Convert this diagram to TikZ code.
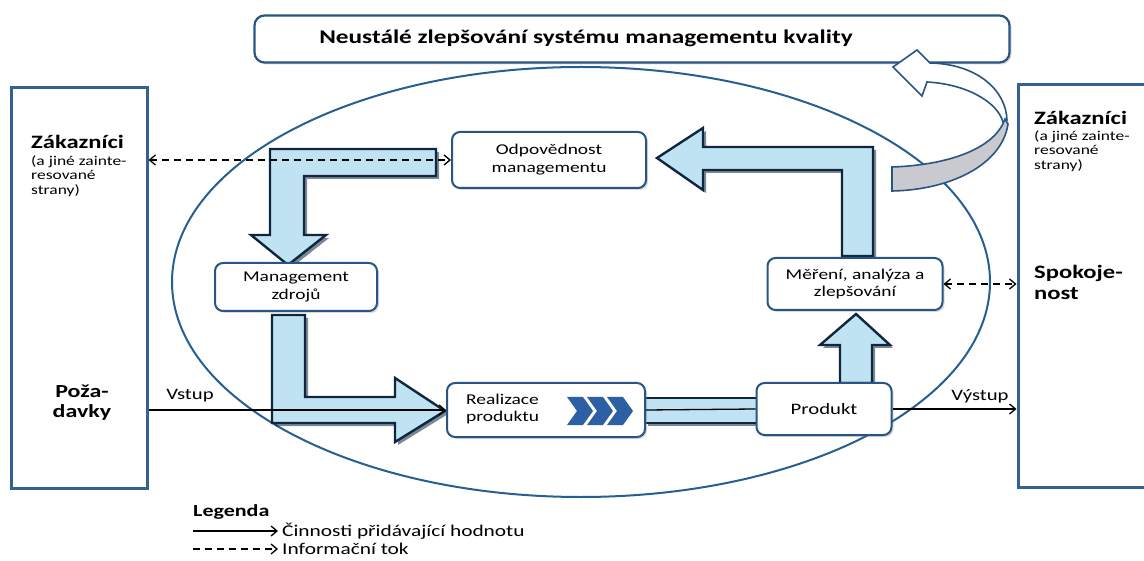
\documentclass[tikz,border=0pt]{standalone}
\usepackage{fontspec}
\setmainfont{Carlito}[FakeStretch=1.3]
\usetikzlibrary{arrows.meta,shadows}
\definecolor{boxline}{RGB}{40,85,130}
\definecolor{frameline}{RGB}{55,96,146}
\definecolor{ringline}{RGB}{38,95,145}
\definecolor{bafill}{RGB}{192,227,243}
\definecolor{baedge}{RGB}{15,38,62}
\definecolor{chev}{RGB}{45,95,165}
\definecolor{bandgray}{RGB}{200,202,208}
\begin{document}
\begin{tikzpicture}[x=1bp,y=-1bp,
  procbox/.style={draw=boxline, line width=2bp, rounded corners=8bp, fill=white,
    inner sep=0pt, align=center, font=\fontsize{15}{18}\selectfont,
    drop shadow={shadow xshift=2bp, shadow yshift=-2bp, opacity=0.3, fill=gray}},
  framebox/.style={draw=frameline, line width=3bp, fill=white, inner sep=0pt,
    drop shadow={shadow xshift=2bp, shadow yshift=-2bp, opacity=0.25, fill=gray}},
  arrowshadow/.style={fill=baedge, fill opacity=0.55, line join=miter},
  blockarrow/.style={draw=baedge, line width=2.4bp, line join=miter, fill=bafill},
  flow/.style={line width=1.3bp, -{Straight Barb[length=6bp,width=10bp]}},
  info/.style={line width=1.3bp, dash pattern=on 7bp off 5bp,
    {Straight Barb[length=6bp,width=10bp]}-{Straight Barb[length=6bp,width=10bp]}},
  infoone/.style={line width=1.3bp, dash pattern=on 7bp off 5bp,
    -{Straight Barb[length=6bp,width=10bp]}},
  bigtext/.style={inner sep=0pt, font=\fontsize{19}{21}\selectfont\bfseries, align=left},
  smalltext/.style={inner sep=0pt, font=\fontsize{13.5}{15}\selectfont, align=left},
  plaintext/.style={inner sep=0pt, font=\fontsize{15}{18}\selectfont}]
\useasboundingbox (0,0) rectangle (1144,561);

% side frames
\node[framebox, minimum width=135bp, minimum height=400bp] (lbox) at (79.5,288) {};
\node[framebox, minimum width=150bp, minimum height=402bp] (rbox) at (1093,286) {};

% the quality management ring
\draw[ringline, line width=2bp] (581,282) ellipse [x radius=409bp, y radius=215bp];

% title box
\node[draw=boxline, line width=2.2bp, rounded corners=10bp, fill=white, inner sep=0pt,
  minimum width=755bp, minimum height=47bp,
  drop shadow={shadow xshift=2bp, shadow yshift=-2bp, opacity=0.3, fill=gray}] (tbox) at (632,39) {};
\node[inner sep=0pt, font=\fontsize{19.5}{20}\selectfont\bfseries] (title) at (586,38)
  {Neustálé zlepšování systému managementu kvality};

% continual improvement band: back part with head, then front part
\draw[boxline, line width=1.6bp, fill=white, line join=miter]
  (930,63) .. controls (977,64) and (1006,90) .. (1007,120)
  -- (1003,122) .. controls (997,101) and (965,84) .. (927,82)
  -- (922,96) -- (893,67) -- (917,50) -- cycle;
\draw[boxline, line width=1.6bp, fill=bandgray]
  (892,167) .. controls (950,165) and (995,148) .. (1005,119)
  -- (1008,124) .. controls (1002,165) and (950,190) .. (892,191) -- cycle;

% block arrows of the process loop (shadow first, then the arrow itself)
\def\arrowA{(436,149) -- (270,149) -- (270,235) -- (251,235) -- (288,265)
  -- (326,235) -- (304,235) -- (304,176) -- (436,176) -- cycle}
\def\arrowB{(272,315) -- (305,315) -- (305,397) -- (395,397) -- (395,378)
  -- (445,411) -- (395,442) -- (395,423) -- (272,423) -- cycle}
\def\arrowC{(840,383) -- (840,345) -- (820,345) -- (856,314) -- (890,345)
  -- (872,345) -- (872,383) -- cycle}
\def\arrowD{(842,256) -- (842,170) -- (703,170) -- (703,190) -- (657,158)
  -- (703,128) -- (703,147) -- (873,147) -- (873,256) -- cycle}
\foreach \shp in {\arrowA,\arrowB,\arrowC,\arrowD}{
  \begin{scope}[shift={(3,3)}]
    \fill[arrowshadow] \shp;
  \end{scope}
  \draw[blockarrow] \shp;
}
\fill[arrowshadow] (648,401) rectangle (760,426);
\draw[blockarrow] (645,398) rectangle (757,423);

% process boxes
\node[procbox, minimum width=194bp, minimum height=56bp] (odp) at (549,160)
  {Odpovědnost\\managementu};
\node[procbox, minimum width=162bp, minimum height=48bp] (mz) at (296,287)
  {Management\\zdrojů};
\node[procbox, minimum width=198bp, minimum height=54bp] (rz) at (546,410) {};
\node[procbox, minimum width=135bp, minimum height=52bp, font=\fontsize{16}{18}\selectfont] (prod) at (824,409) {Produkt};
\node[procbox, minimum width=175bp, minimum height=52bp] (mer) at (855,284)
  {Měření, analýza a\\zlepšování};
\node[plaintext, align=left, anchor=west] (rzt) at (466,409) {Realizace\\produktu};

% chevrons inside product realization
\foreach \cx in {567,587,607}
  \fill[chev] (\cx,397) -- (\cx+16,397) -- (\cx+26,411) -- (\cx+16,425)
    -- (\cx,425) -- (\cx+10,411) -- cycle;

% value-adding flow and information flow
\draw[flow] (rz.west -| lbox.east) -- (rz.west);
\draw[line width=1.3bp] (rz.east) -- (prod.west);
\draw[flow] (prod.east) -- (prod.east -| rbox.west);
\draw[info] (odp.west -| lbox.east) -- (odp.west);
\draw[info] (mer.east) -- (mer.east -| rbox.west);

\node[plaintext, font=\fontsize{16}{18}\selectfont] (vst) at (190,396) {Vstup};
\node[plaintext, font=\fontsize{16}{18}\selectfont] (vyst) at (980,396) {Výstup};

% texts in the side frames
\node[bigtext, anchor=west] (lz) at (31,142) {Zákazníci};
\node[smalltext, anchor=north west] (lzs) at (31,155) {(a jiné zainte-\\resované\\strany)};
\node[inner sep=0pt, font=\fontsize{18.5}{20}\selectfont\bfseries, align=center] (poz) at (82,403) {Poža-\\davky};
\node[bigtext, anchor=west] (rz1) at (1034,118) {Zákazníci};
\node[smalltext, anchor=north west] (rzs) at (1034,130) {(a jiné zainte-\\resované\\strany)};
\node[bigtext, anchor=west] (spok) at (1034,282) {Spokoje-\\nost};

% legend
\node[inner sep=0pt, anchor=west, font=\fontsize{17}{18}\selectfont\bfseries] (leg) at (193,512) {Legenda};
\coordinate (la1) at (193,531);
\coordinate (lb1) at (278,531);
\coordinate (la2) at (193,549);
\coordinate (lb2) at (278,549);
\draw[flow] (la1) -- (lb1);
\draw[infoone] (la2) -- (lb2);
\node[plaintext, anchor=west, font=\fontsize{16.5}{18}\selectfont] (lt1) at (282,531) {Činnosti přidávající hodnotu};
\node[plaintext, anchor=west, font=\fontsize{16.5}{18}\selectfont] (lt2) at (282,549) {Informační tok};
\end{tikzpicture}
\end{document}
